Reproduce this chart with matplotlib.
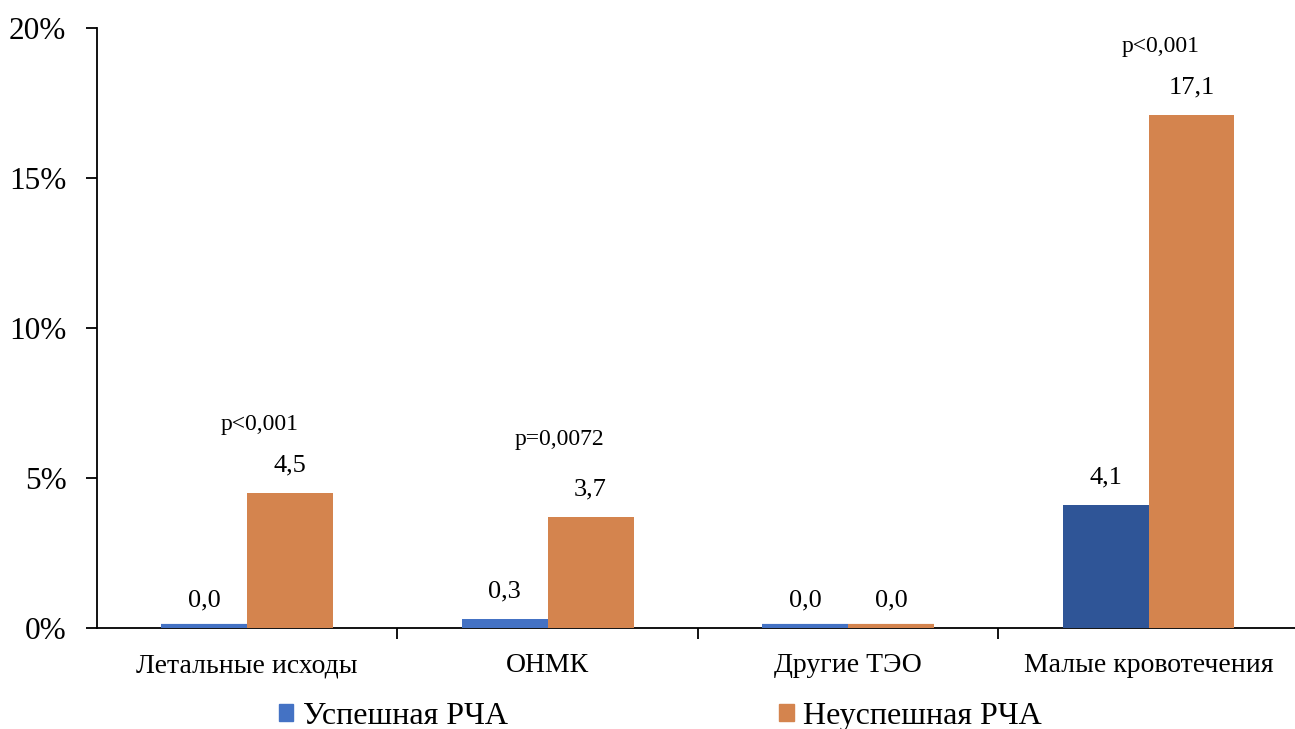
import matplotlib
matplotlib.use('Agg')
import matplotlib.pyplot as plt
from matplotlib.patches import Patch
from matplotlib.transforms import ScaledTranslation

plt.rcParams['font.family'] = ['Liberation Serif', 'DejaVu Serif']

# данные
categories = ['Летальные исходы', 'ОНМК', 'Другие ТЭО', 'Малые кровотечения']
success = [0.0, 0.3, 0.0, 4.1]
failure = [4.5, 3.7, 0.0, 17.1]
p_labels = ['p<0,001', 'p=0,0072', '', 'p<0,001']
p_heights = [6.77, 6.27, 0, 19.37]
series_names = ['Успешная РЧА', 'Неуспешная РЧА']

blue = '#4472C4'
blue_dark = '#2F5597'
orange = '#D4844E'
success_colors = [blue, blue, blue, blue_dark]

fig = plt.figure(figsize=(12.95, 7.29), dpi=100)
ax = fig.add_axes([0.0749, 0.1385, 0.928, 0.823])

# нулевые столбцы показываем тонкой линией чуть выше оси
lift = ax.transData + ScaledTranslation(0, 1.6 / 72, fig.dpi_scale_trans)

w = 0.286
x = range(len(categories))
for i in x:
    for xc, v, c in [(i - w / 2, success[i], success_colors[i]),
                     (i + w / 2, failure[i], orange)]:
        ax.bar(xc, v, w, color=c, zorder=3)
        if v == 0:
            ax.hlines(v, xc - w / 2, xc + w / 2, colors=c, linewidth=3,
                      transform=lift, zorder=3)
        ax.text(xc, v + 0.55, f'{v:.1f}'.replace('.', ','),
                ha='center', va='bottom', fontsize=19)
    if p_labels[i]:
        ax.text(i + 0.04, p_heights[i], p_labels[i], ha='center', va='center',
                fontsize=17)

ax.set_xlim(-0.5, 3.5)
ax.set_ylim(0, 20)
ax.set_yticks([0, 5, 10, 15, 20])
ax.set_yticklabels([f'{v}%' for v in [0, 5, 10, 15, 20]])
ax.set_xticks(list(x))
ax.set_xticklabels(categories)
ax.set_xticks([0.5, 1.5, 2.5], minor=True)
ax.tick_params(axis='x', which='major', length=0, pad=18, labelsize=20)
ax.tick_params(axis='x', which='minor', length=8, width=1.3)
ax.tick_params(axis='y', length=8, width=1.3, pad=14, labelsize=22.5)
for s in ['top', 'right']:
    ax.spines[s].set_visible(False)
for s in ['left', 'bottom']:
    ax.spines[s].set_linewidth(1.3)

handles = [Patch(color=blue), Patch(color=orange)]
fig.legend(handles, series_names, loc='lower center', bbox_to_anchor=(0.51, -0.042),
           ncol=2, frameon=False, fontsize=23, handlelength=0.45, handleheight=0.45,
           handletextpad=0.3, columnspacing=8.5)

fig.savefig('out.png', dpi=100)
